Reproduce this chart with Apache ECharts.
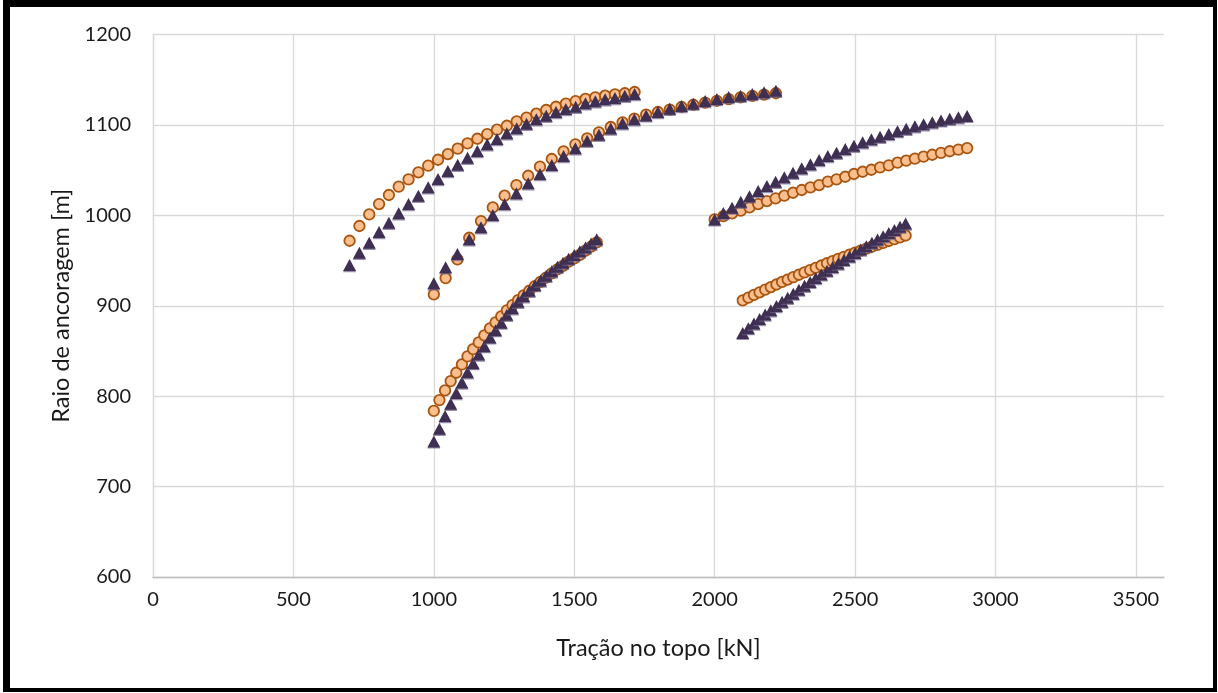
<!DOCTYPE html>
<html>
<head>
<meta charset="utf-8">
<script src="https://cdn.jsdelivr.net/npm/echarts@6/dist/echarts.min.js"></script>
<style>
  html, body { margin: 0; padding: 0; background: #ffffff; }
  #chart { width: 1218px; height: 693px; }
</style>
</head>
<body>
<div id="chart"></div>
<script>
// Tração no topo [kN] e raio de ancoragem [m] — cinco famílias de curvas

// Família 1
const tracao1 = [700, 735, 770, 805, 840, 875, 910, 945, 980, 1015, 1050, 1085, 1120, 1155, 1190, 1225, 1260, 1295, 1330, 1365, 1400, 1435, 1470, 1505, 1540, 1575, 1610, 1645, 1680, 1715];
const raioCirc1 = [971.9, 988.2, 1001.1, 1012.5, 1022.5, 1031.7, 1039.8, 1047.6, 1054.9, 1061.5, 1067.8, 1073.7, 1079.6, 1084.7, 1089.9, 1094.7, 1099.1, 1104.0, 1108.0, 1112.4, 1116.5, 1120.1, 1123.5, 1126.4, 1128.7, 1130.5, 1132.3, 1133.8, 1135.0, 1136.4];
const raioTri1 = [945.0, 958.7, 969.7, 981.5, 991.8, 1002.2, 1012.5, 1021.7, 1031.0, 1040.2, 1049.0, 1056.0, 1063.7, 1071.1, 1078.5, 1084.4, 1090.7, 1096.2, 1101.3, 1106.2, 1110.2, 1114.3, 1117.6, 1120.1, 1123.9, 1126.1, 1128.3, 1129.8, 1132.3, 1134.2];

// Família 2
const tracao2 = [1000, 1042, 1084, 1126, 1168, 1210, 1252, 1294, 1336, 1378, 1420, 1462, 1504, 1546, 1588, 1630, 1672, 1714, 1756, 1798, 1840, 1882, 1924, 1966, 2008, 2050, 2092, 2134, 2176, 2218];
const raioCirc2 = [912.6, 930.6, 951.3, 975.2, 993.7, 1008.8, 1021.7, 1033.5, 1043.8, 1053.8, 1062.3, 1070.8, 1078.5, 1085.2, 1091.8, 1097.7, 1102.9, 1106.9, 1111.3, 1114.3, 1117.0, 1119.8, 1122.3, 1124.6, 1126.7, 1128.6, 1130.4, 1132.1, 1133.6, 1135.0];
const raioTri2 = [924.8, 942.5, 957.2, 973.5, 986.7, 1000.3, 1012.5, 1024.3, 1035.4, 1045.7, 1055.6, 1065.7, 1074.1, 1082.5, 1089.2, 1096.0, 1101.8, 1106.2, 1110.5, 1114.2, 1117.9, 1120.9, 1123.5, 1126.4, 1128.7, 1130.9, 1132.3, 1134.2, 1136.1, 1137.8];

// Família 3
const tracao3 = [1000, 1020, 1040, 1060, 1080, 1100, 1120, 1140, 1160, 1180, 1200, 1220, 1240, 1260, 1280, 1300, 1320, 1340, 1360, 1380, 1400, 1420, 1440, 1460, 1480, 1500, 1520, 1540, 1560, 1580];
const raioCirc3 = [783.8, 795.7, 806.4, 816.7, 825.9, 835.2, 844.0, 852.1, 859.5, 867.3, 875.0, 881.6, 888.3, 894.9, 900.8, 906.3, 911.5, 916.6, 921.8, 926.5, 931.0, 935.8, 940.3, 944.2, 948.7, 952.4, 956.3, 961.0, 965.5, 970.0];
const raioTri3 = [750.0, 764.0, 778.0, 791.5, 803.5, 815.0, 826.5, 836.5, 846.0, 855.3, 865.0, 873.0, 881.3, 890.0, 897.3, 904.3, 910.5, 916.6, 922.8, 928.0, 933.2, 938.2, 943.0, 947.6, 952.0, 956.2, 960.2, 964.3, 968.8, 973.5];

// Família 4
const tracao4 = [2000, 2031, 2062, 2093, 2124, 2155, 2186, 2217, 2248, 2279, 2310, 2341, 2372, 2403, 2434, 2465, 2496, 2527, 2558, 2589, 2620, 2651, 2682, 2713, 2744, 2775, 2806, 2837, 2868, 2899];
const raioCirc4 = [995.5, 999.2, 1002.2, 1005.1, 1008.8, 1012.5, 1015.8, 1018.8, 1021.7, 1025.0, 1028.0, 1031.0, 1033.5, 1037.2, 1039.8, 1042.7, 1045.7, 1048.2, 1050.4, 1053.1, 1055.3, 1058.2, 1060.4, 1062.7, 1064.9, 1067.0, 1069.0, 1070.9, 1072.7, 1074.4];
const raioTri4 = [995.5, 1002.5, 1008.5, 1015.0, 1021.0, 1026.9, 1032.4, 1037.2, 1042.0, 1047.1, 1052.0, 1056.4, 1061.2, 1065.6, 1069.2, 1073.3, 1077.0, 1080.7, 1084.1, 1086.9, 1089.9, 1093.1, 1095.8, 1098.4, 1100.8, 1103.0, 1105.0, 1106.9, 1108.5, 1110.0];

// Família 5
const tracao5 = [2100, 2120, 2140, 2160, 2180, 2200, 2220, 2240, 2260, 2280, 2300, 2320, 2340, 2360, 2380, 2400, 2420, 2440, 2460, 2480, 2500, 2520, 2540, 2560, 2580, 2600, 2620, 2640, 2660, 2680];
const raioCirc5 = [906.0, 909.0, 912.0, 914.9, 917.8, 920.7, 923.5, 926.3, 929.0, 931.7, 934.3, 936.9, 939.5, 942.0, 944.5, 947.0, 949.4, 951.8, 954.1, 956.4, 958.7, 960.9, 963.1, 965.3, 967.4, 969.5, 971.6, 973.7, 975.7, 977.7];
const raioTri5 = [870.0, 875.2, 880.3, 885.3, 890.2, 895.0, 899.7, 904.3, 908.9, 913.4, 917.8, 922.1, 926.4, 930.6, 934.7, 938.8, 942.8, 946.8, 950.7, 954.6, 958.4, 962.2, 965.9, 969.6, 973.2, 976.8, 980.4, 983.9, 987.4, 990.9];

// Eixos
const eixoXTicks = [0, 500, 1000, 1500, 2000, 2500, 3000, 3500];
const eixoYTicks = [600, 700, 800, 900, 1000, 1100, 1200];

const tracoes = [tracao1, tracao2, tracao3, tracao4, tracao5];
const circulos = [raioCirc1, raioCirc2, raioCirc3, raioCirc4, raioCirc5];
const triangulos = [raioTri1, raioTri2, raioTri3, raioTri4, raioTri5];

function pares(xs, ys) {
  return xs.map((x, i) => [x, ys[i]]);
}
const dadosCirculos = [].concat(...tracoes.map((t, k) => pares(t, circulos[k])));
const dadosTriangulos = [].concat(...tracoes.map((t, k) => pares(t, triangulos[k])));

const fonte = 'Lato, "Open Sans", sans-serif';
const corTexto = '#1a1a1a';

const chart = echarts.init(document.getElementById('chart'), null, { renderer: 'canvas' });
chart.setOption({
  animation: false,
  backgroundColor: '#ffffff',
  grid: { left: 153, top: 34.5, right: 54, bottom: 116, containLabel: false },
  xAxis: {
    type: 'value',
    min: 0,
    max: 3600,
    interval: 500,
    name: 'Tração no topo [kN]',
    nameLocation: 'middle',
    nameGap: 59,
    nameTextStyle: { fontFamily: fonte, fontSize: 23.5, color: corTexto },
    axisLine: { show: true, lineStyle: { color: '#bfbfbf', width: 1.3 } },
    axisTick: { show: false },
    axisLabel: {
      fontFamily: fonte, fontSize: 20, color: corTexto, margin: 13,
      showMaxLabel: false,
      formatter: v => (eixoXTicks.indexOf(v) >= 0 ? String(v) : '')
    },
    splitLine: { show: true, showMaxLine: false, lineStyle: { color: '#d9d9d9', width: 1.3 } }
  },
  yAxis: {
    type: 'value',
    min: 600,
    max: 1200,
    interval: 100,
    name: 'Raio de ancoragem [m]',
    nameLocation: 'middle',
    nameGap: 79,
    nameTextStyle: { fontFamily: fonte, fontSize: 23.5, color: corTexto },
    axisLine: { show: true, lineStyle: { color: '#d9d9d9', width: 1.3 } },
    axisTick: { show: false },
    axisLabel: {
      fontFamily: fonte, fontSize: 20, color: corTexto, margin: 22,
      formatter: v => (eixoYTicks.indexOf(v) >= 0 ? String(v) : '')
    },
    splitLine: { show: true, lineStyle: { color: '#d9d9d9', width: 1.3 } }
  },
  series: [
    {
      name: 'Círculos',
      type: 'scatter',
      symbol: 'circle',
      symbolSize: 10.5,
      data: dadosCirculos,
      itemStyle: { color: '#f9bf8f', borderColor: '#a9550f', borderWidth: 1.8, opacity: 1 },
      z: 2
    },
    {
      name: 'Triângulos',
      type: 'scatter',
      symbol: 'triangle',
      symbolSize: [13, 12],
      data: dadosTriangulos,
      itemStyle: {
        color: '#3f3053', opacity: 1,
        shadowColor: 'rgba(110,95,135,0.7)', shadowOffsetY: 1.2, shadowBlur: 0
      },
      z: 3
    }
  ],
  graphic: [
    { type: 'rect', shape: { x: 3, y: 0, width: 1214, height: 7 }, style: { fill: '#000' }, silent: true },
    { type: 'rect', shape: { x: 3, y: 0, width: 7, height: 692 }, style: { fill: '#000' }, silent: true },
    { type: 'rect', shape: { x: 1213, y: 0, width: 4, height: 692 }, style: { fill: '#000' }, silent: true },
    { type: 'rect', shape: { x: 3, y: 688, width: 1214, height: 4 }, style: { fill: '#000' }, silent: true }
  ]
});
</script>
</body>
</html>
